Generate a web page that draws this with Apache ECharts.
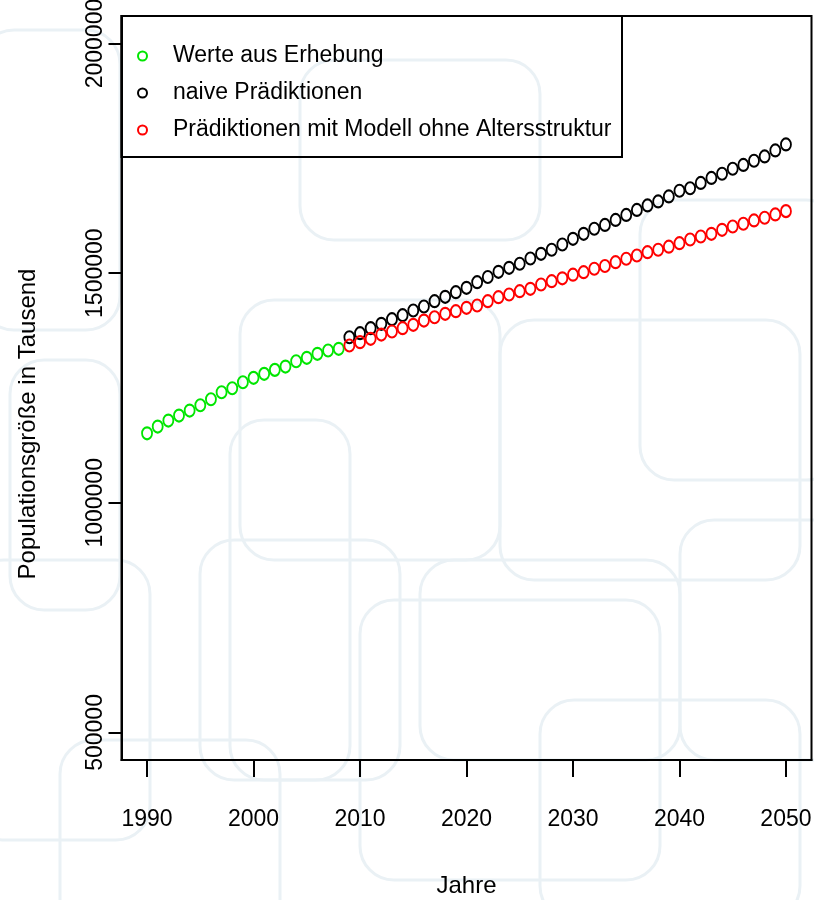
<!DOCTYPE html>
<html>
<head>
<meta charset="utf-8">
<script src="https://cdn.jsdelivr.net/npm/echarts@6/dist/echarts.min.js"></script>
<style>
  html, body { margin: 0; padding: 0; background: #fff; }
  #chart { width: 814px; height: 900px; }
</style>
</head>
<body>
<div id="chart"></div>
<script>
const FONT = "'Liberation Sans', Arial, sans-serif";

const seriesNames = ['Werte aus Erhebung', 'naive Prädiktionen', 'Prädiktionen mit Modell ohne Altersstruktur'];
const seriesColors = ['#00e600', '#000000', '#ff0000'];
const xTitle = 'Jahre';
const yTitle = 'Populationsgröße in Tausend';

const obsYears = [1990, 1991, 1992, 1993, 1994, 1995, 1996, 1997, 1998, 1999,
  2000, 2001, 2002, 2003, 2004, 2005, 2006, 2007, 2008];
const obsValues = [1151400, 1166000, 1179100, 1190000, 1200900, 1212400, 1225500, 1240700, 1249400, 1262500,
  1272100, 1280800, 1289500, 1296700, 1308300, 1315700, 1324400, 1331600, 1335300];

const predYears = [2009, 2010, 2011, 2012, 2013, 2014, 2015, 2016, 2017, 2018, 2019,
  2020, 2021, 2022, 2023, 2024, 2025, 2026, 2027, 2028, 2029,
  2030, 2031, 2032, 2033, 2034, 2035, 2036, 2037, 2038, 2039,
  2040, 2041, 2042, 2043, 2044, 2045, 2046, 2047, 2048, 2049, 2050];
const naiveValues = [1360500, 1369300, 1380200, 1389700, 1399800, 1408500, 1418700, 1427400, 1439000, 1448600, 1458600,
  1468200, 1480400, 1491700, 1503000, 1511700, 1520500, 1532000, 1542200, 1551000, 1562500,
  1574900, 1585800, 1596700, 1605000, 1615900, 1626800, 1637700, 1647500, 1656200, 1667100,
  1679500, 1684900, 1696500, 1707400, 1716500, 1727400, 1735700, 1744800, 1754200, 1767300, 1780400];
const modelValues = [1342500, 1349700, 1357100, 1366400, 1373000, 1380200, 1387600, 1396900, 1404100, 1411500, 1417200,
  1424600, 1429600, 1439000, 1447700, 1453600, 1460800, 1466000, 1475400, 1482600, 1488900,
  1496700, 1502200, 1509600, 1515700, 1523900, 1531400, 1538500, 1545700, 1551000, 1557700,
  1565300, 1573400, 1579900, 1585800, 1594500, 1601700, 1607600, 1614800, 1620700, 1627900, 1635100];

const xTicks = [1990, 2000, 2010, 2020, 2030, 2040, 2050];
const yTicks = [500000, 1000000, 1500000, 2000000];

// faint rounded-rect wallpaper behind the plot
const wallpaper = [
  [-20, 30, 140, 300], [10, 360, 110, 250], [-30, 560, 180, 280], [60, 740, 220, 200],
  [240, 300, 260, 260], [200, 540, 200, 240], [420, 560, 260, 200], [500, 320, 300, 260],
  [640, 200, 200, 280], [680, 520, 180, 240], [300, 60, 240, 180], [540, 700, 260, 220],
  [230, 420, 120, 360], [360, 600, 300, 280]
];

function pairs(xs, ys) {
  return xs.map((x, i) => [x, ys[i]]);
}

const dom = document.getElementById('chart');
const myChart = echarts.init(dom, null, { renderer: 'canvas' });

const option = {
  backgroundColor: '#ffffff',
  animation: false,
  textStyle: { fontFamily: FONT },
  graphic: wallpaper.map(([x, y, w, h]) => ({
    type: 'rect',
    z: -10,
    silent: true,
    shape: { x: x, y: y, width: w, height: h, r: 34 },
    style: { fill: 'none', stroke: '#eaf1f5', lineWidth: 3 }
  })).concat([
    {
      // legend box
      type: 'rect',
      z: 5,
      shape: { x: 121.5, y: 16, width: 500.5, height: 141 },
      style: { fill: 'none', stroke: '#000', lineWidth: 2 }
    },
    {
      type: 'text',
      x: 28,
      y: 424,
      rotation: Math.PI / 2,
      style: {
        text: yTitle,
        fill: '#000',
        font: "24px 'Liberation Sans', Arial, sans-serif",
        align: 'center',
        verticalAlign: 'middle'
      }
    }
  ]),
  grid: {
    left: 121.5,
    top: 16,
    width: 690,
    height: 744,
    outerBoundsMode: 'none',
    containLabel: false,
    show: true,
    backgroundColor: 'transparent',
    borderColor: '#000',
    borderWidth: 2
  },
  legend: {
    orient: 'vertical',
    left: 132,
    top: 37,
    itemWidth: 9,
    itemHeight: 11,
    itemGap: 9,
    data: seriesNames,
    textStyle: {
      color: '#000',
      fontFamily: FONT,
      fontSize: 23,
      lineHeight: 28,
      padding: [0, 0, 0, 21]
    }
  },
  xAxis: {
    type: 'value',
    min: 1987.6,
    max: 2052.4,
    name: xTitle,
    nameLocation: 'middle',
    nameGap: 114,
    nameTextStyle: { color: '#000', fontSize: 24, fontFamily: FONT },
    axisLine: { show: true, lineStyle: { color: '#000', width: 2 } },
    axisTick: { show: true, length: 17, customValues: xTicks, lineStyle: { color: '#000', width: 2 } },
    axisLabel: {
      customValues: xTicks,
      color: '#000',
      fontSize: 23,
      margin: 48,
      fontFamily: FONT,
      formatter: (v) => String(v)
    },
    splitLine: { show: false }
  },
  yAxis: {
    type: 'value',
    min: 440000,
    max: 2060000,
    axisLine: { show: true, lineStyle: { color: '#000', width: 2 } },
    axisTick: { show: true, length: 13, customValues: yTicks, lineStyle: { color: '#000', width: 2 } },
    axisLabel: {
      customValues: yTicks,
      rotate: 90,
      color: '#000',
      fontSize: 23,
      margin: 14,
      fontFamily: FONT,
      formatter: (v) => String(v)
    },
    splitLine: { show: false }
  },
  series: [
    { data: pairs(obsYears, obsValues), color: seriesColors[0] },
    { data: pairs(predYears, naiveValues), color: seriesColors[1] },
    { data: pairs(predYears, modelValues), color: seriesColors[2] }
  ].map((s, i) => ({
    name: seriesNames[i],
    type: 'scatter',
    symbol: 'circle',
    symbolSize: [10, 12],
    data: s.data,
    itemStyle: { color: 'transparent', borderColor: s.color, borderWidth: 2, opacity: 1 }
  }))
};

myChart.setOption(option);
</script>
</body>
</html>
